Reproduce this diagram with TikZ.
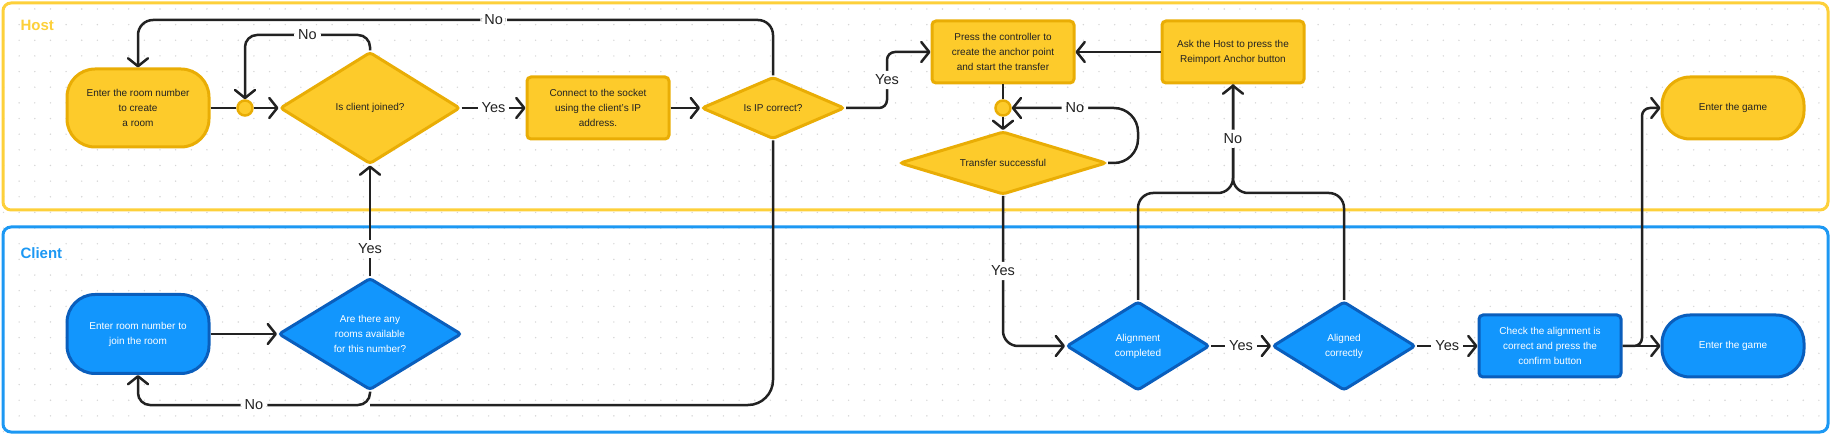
\documentclass[tikz,border=0pt]{standalone}
\usepackage{fontspec}
\setmainfont{Liberation Sans}
\usetikzlibrary{shapes.geometric,arrows.meta}
\definecolor{hostfill}{HTML}{FDCB2B}
\definecolor{hostline}{HTML}{E9AD05}
\definecolor{hostlane}{HTML}{FDD03A}
\definecolor{clientfill}{HTML}{1296FD}
\definecolor{clientline}{HTML}{0A5EBC}
\definecolor{clientlane}{HTML}{1C98F3}
\definecolor{inkc}{HTML}{222222}
\definecolor{dotc}{HTML}{D6D6D6}

\begin{document}
\begin{tikzpicture}[x=1pt,y=-1pt,
    nodetext/.style={align=center, font=\fontsize{10}{15}\selectfont, line width=3pt, inner sep=2pt},
    hostbox/.style={nodetext, draw=hostline, fill=hostfill, text=inkc, rounded corners=4pt, minimum width=142pt, minimum height=62pt},
    clientbox/.style={nodetext, draw=clientline, fill=clientfill, text=white, rounded corners=4pt, minimum width=142pt, minimum height=62pt},
    hostpill/.style={hostbox, rounded corners=28pt},
    clientpill/.style={clientbox, rounded corners=28pt},
    hostdia/.style={nodetext, shape=diamond, aspect=1.6, inner sep=0pt, draw=hostline, fill=hostfill, text=inkc, rounded corners=3pt},
    clientdia/.style={nodetext, shape=diamond, aspect=1.6, inner sep=0pt, draw=clientline, fill=clientfill, text=white, rounded corners=3pt},
    joint/.style={circle, draw=hostline, fill=hostfill, line width=2.5pt, minimum size=15pt, inner sep=0pt},
    wire/.style={draw=inkc, line width=2.5pt},
    arw/.style={wire, -{Straight Barb[length=8pt,width=20pt,round]}},
    lbl/.style={fill=white, inner sep=4pt, text=inkc, font=\fontsize{14.5}{16}\selectfont},
    lanelbl/.style={anchor=west, font=\bfseries\fontsize{15}{18}\selectfont}]
    \useasboundingbox (0,0) rectangle (1832,438);
    %DOTS
    \foreach \i in {0,...,116}
        \foreach \j in {0,...,27}
            \fill[dotc] (3.5+15.65*\i, 9+15.65*\j) circle (0.8);
    %LANES
    \draw[hostlane, line width=3pt, rounded corners=8pt] (3,3) rectangle (1828,210);
    \draw[clientlane, line width=3pt, rounded corners=8pt] (3,227) rectangle (1828,432);
    \node[lanelbl, text=hostlane] (hostlbl) at (17,25) {Host};
    \node[lanelbl, text=clientlane] (clientlbl) at (17,253) {Client};
    %HOST
    \node[hostpill, minimum height=78pt] (hostroom) at (138,108) {Enter the room number\\to create\\a room};
    \node[joint] (j1) at (245,108) {};
    \node[hostdia, minimum width=180pt, minimum height=112pt] (cjoin) at (370,108) {Is client joined?};
    \node[hostbox] (sock) at (598,108) {Connect to the socket\\using the client's IP\\address.};
    \node[hostdia, minimum width=143pt, minimum height=62pt] (ipok) at (773,108) {Is IP correct?};
    \node[hostbox] (press) at (1003,52) {Press the controller to\\create the anchor point\\and start the transfer};
    \node[joint] (j2) at (1003,108) {};
    \node[hostdia, minimum width=207pt, minimum height=63pt, aspect=3] (trans) at (1003,163) {Transfer successful};
    \node[hostbox] (ask) at (1233,52) {Ask the Host to press the\\Reimport Anchor button};
    \node[hostpill] (hostgame) at (1733,108) {Enter the game};
    %CLIENT
    \node[clientpill, minimum height=79pt] (clientroom) at (138,334) {Enter room number to\\join the room};
    \node[clientdia, minimum width=183pt, minimum height=112pt] (roomq) at (370,334) {Are there any\\rooms available\\for this number?};
    \node[clientdia, minimum width=143pt, minimum height=89pt] (acomp) at (1138,346) {Alignment\\completed};
    \node[clientdia, minimum width=143pt, minimum height=89pt] (acorr) at (1344,346) {Aligned\\correctly};
    \node[clientbox] (check) at (1550,346) {Check the alignment is\\correct and press the\\confirm button};
    \node[clientpill] (clientgame) at (1733,346) {Enter the game};
    %BENDS
    \coordinate (cjtop) at (370,35);
    \coordinate (iptop) at (773,20);
    \coordinate (ipright) at (887,108);
    \coordinate (trright) at (1138,163);
    \coordinate (brace) at (1233,193);
    \coordinate (gameup) at (1642,346);
    \coordinate (rqbottom) at (370,405);
    %CONNECTORS HOST
    \draw[wire] (hostroom) -- (j1);
    \draw[arw] (j1) -- (cjoin);
    \draw[arw, rounded corners=12pt] (cjoin.north) -- (cjtop) -| node[lbl, pos=0.25] {No} (j1.north);
    \draw[arw] (cjoin) -- node[lbl] {Yes} (sock);
    \draw[arw] (sock) -- (ipok);
    \draw[arw, rounded corners=15pt] (ipok.north) -- (iptop) -| node[lbl, pos=0.22] {No} (hostroom.north);
    \draw[arw, rounded corners=8pt] (ipok.east) -- (ipright) |- node[lbl, pos=0.25] {Yes} (press.west);
    \draw[wire] (press) -- (j2);
    \draw[arw] (j2) -- (trans);
    \draw[arw, rounded corners=24pt] (trans.east) -- (trright) |- node[lbl, pos=0.75] {No} (j2.east);
    \draw[arw] (ask) -- (press);
    %CONNECTORS CLIENT
    \draw[arw] (clientroom) -- (roomq);
    \draw[arw] (roomq) -- node[lbl, pos=0.25] {Yes} (cjoin);
    \draw[wire, rounded corners=25pt] (ipok.south) |- (rqbottom);
    \draw[arw, rounded corners=12pt] (roomq.south) -- (rqbottom) -| node[lbl, pos=0.25] {No} (clientroom.south);
    \draw[arw, rounded corners=15pt] (trans.south) |- node[lbl, pos=0.25] {Yes} (acomp.west);
    \draw[arw] (acomp) -- node[lbl] {Yes} (acorr);
    \draw[arw] (acorr) -- node[lbl] {Yes} (check);
    \draw[arw] (check) -- (clientgame);
    \draw[arw, rounded corners=8pt] (check.east) -- (gameup) |- (hostgame.west);
    \draw[wire, rounded corners=15pt] (acorr.north) |- (brace) -- (ask.south);
    \draw[arw, rounded corners=15pt] (acomp.north) |- (brace) -- node[lbl] {No} (ask.south);
\end{tikzpicture}
\end{document}
